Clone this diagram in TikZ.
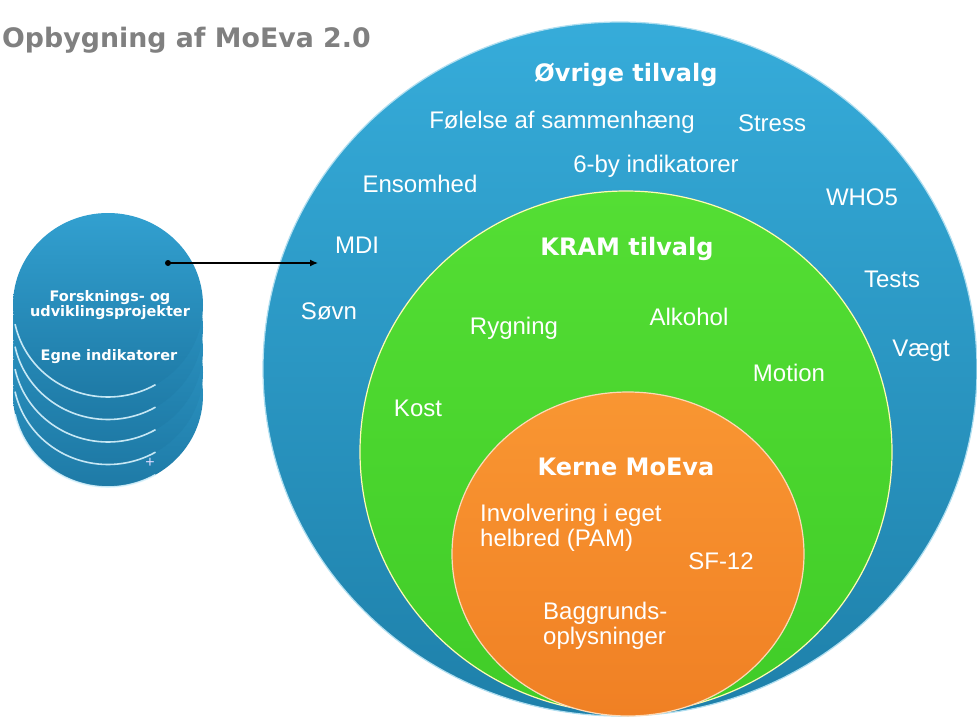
\documentclass[tikz,border=0pt]{standalone}
\usepackage{fontspec}
\setmainfont{Liberation Sans}
\newfontfamily\vfont{DejaVu Sans}
\usetikzlibrary{arrows.meta}
\definecolor{blueTop}{RGB}{54,172,218}
\definecolor{blueBot}{RGB}{30,128,170}
\definecolor{greenTop}{RGB}{84,222,52}
\definecolor{greenBot}{RGB}{64,204,40}
\definecolor{orTop}{RGB}{249,150,50}
\definecolor{orBot}{RGB}{240,128,36}
\definecolor{diskTop}{RGB}{50,160,208}
\definecolor{diskBot}{RGB}{30,122,166}
\definecolor{titleGray}{RGB}{128,128,128}
\begin{document}
\begin{tikzpicture}[x=1pt,y=-1pt,
  item/.style={text=white, font=\fontsize{24}{28}\selectfont, inner sep=0pt},
  head/.style={text=white, font=\vfont\bfseries\fontsize{24}{28}\selectfont, inner sep=0pt},
  small/.style={text=white, font=\vfont\bfseries\fontsize{14.5}{14}\selectfont, inner sep=0pt, align=center},
  ring/.style={line width=1.2pt}]
\useasboundingbox (0,0) rectangle (977,718);
\fill[white] (0,0) rectangle (977,718);

% title
\node[anchor=west, text=titleGray, font=\vfont\bfseries\fontsize{26.8}{30}\selectfont, inner sep=0pt] (title) at (2,40) {Opbygning af MoEva 2.0};

% big circles
\shade[top color=blueTop, bottom color=blueBot] (620,369) ellipse [x radius=357pt, y radius=347pt];
\draw[ring, draw=white!60!blueTop] (620,369) ellipse [x radius=357pt, y radius=347pt];
\shade[top color=greenTop, bottom color=greenBot] (626,452) ellipse [x radius=266pt, y radius=261pt];
\draw[ring, draw=white!70!yellow] (626,452) ellipse [x radius=266pt, y radius=261pt];
\shade[top color=orTop, bottom color=orBot] (628,554) ellipse [x radius=176pt, y radius=162pt];
\draw[ring, draw=white!65!orTop] (628,554) ellipse [x radius=176pt, y radius=162pt];

% disk stack
\foreach \i in {4,3,2,1,0} {
  \shade[top color=diskTop, bottom color=diskBot] (108,{305+22.5*\i}) ellipse [x radius=95pt, y radius=92pt];
  \draw[white!85!cyan, line width=1.6pt, opacity=.9] ([shift={(108,{305+22.5*\i})}]192:95pt and 92pt) arc[start angle=192, end angle=300, x radius=95pt, y radius=92pt];
}
\node[small] (fou) at (110,305) {Forsknings- og\\udviklingsprojekter};
\node[small] (egne) at (109,357) {Egne indikatorer};
\node[text=white!85!blue, font=\fontsize{16}{16}\selectfont, inner sep=0pt] (plus) at (150,463) {+};

% arrow
\node[circle, fill=black, inner sep=0pt, minimum size=6pt] (dot) at (168,263) {};
\coordinate (arrowend) at (318,263);
\draw[line width=1.3pt, -{Latex[length=8pt,width=7pt]}] (dot.center) -- (arrowend);

% outer ring labels
\node[head] (ovrige) at (626,75) {Øvrige tilvalg};
\node[item] (folelse) at (562,122) {Følelse af sammenhæng};
\node[item] (stress) at (772,123) {Stress};
\node[item] (sixby) at (656,166) {6-by indikatorer};
\node[item] (ensomhed) at (420,184) {Ensomhed};
\node[item] (who) at (862,197) {WHO5};
\node[item] (mdi) at (357,245) {MDI};
\node[item] (tests) at (892,279) {Tests};
\node[item] (sovn) at (329,311) {Søvn};
\node[item] (vaegt) at (921,351) {Vægt};

% KRAM ring labels
\node[head] (kram) at (627,249) {KRAM tilvalg};
\node[item] (rygning) at (514,328) {Rygning};
\node[item] (alkohol) at (689,317) {Alkohol};
\node[item] (motion) at (789,373) {Motion};
\node[item] (kost) at (418,408) {Kost};

% core labels
\node[head] (kerne) at (626,467) {Kerne MoEva};
\node[item, anchor=north west, align=left, font=\fontsize{24}{25}\selectfont] (pam) at (480,504) {Involvering i eget\\helbred (PAM)};
\node[item] (sf) at (721,561) {SF-12};
\node[item, anchor=north west, align=left, font=\fontsize{24}{25}\selectfont] (bagg) at (543,602) {Baggrunds-\\oplysninger};
\end{tikzpicture}
\end{document}
